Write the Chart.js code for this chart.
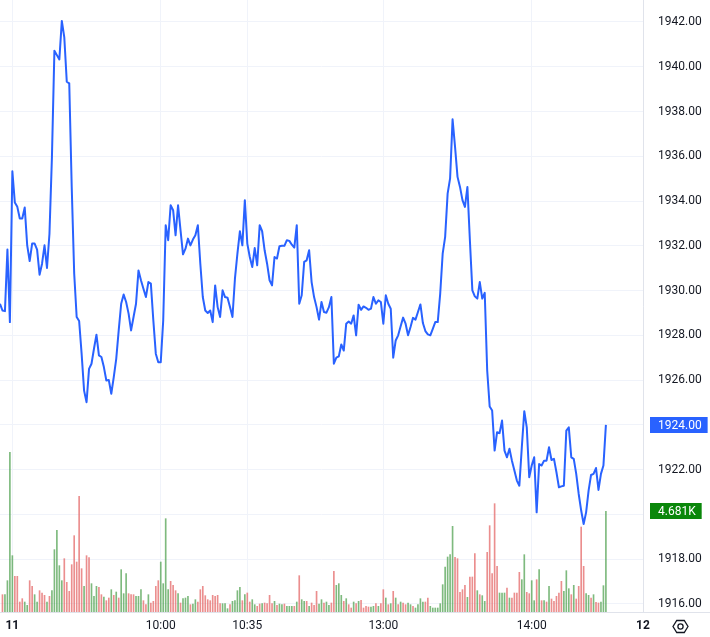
<!DOCTYPE html>
<html>
<head>
<meta charset="utf-8">
<script src="https://cdn.jsdelivr.net/npm/chart.js@4.4.1/dist/chart.umd.min.js"></script>
<style>
  html, body { margin: 0; padding: 0; background: #ffffff; }
  #wrap { width: 710px; height: 637px; position: relative; }
</style>
</head>
<body>
<div id="wrap"><canvas id="c"></canvas></div>
<script>
// ---- data (1-minute bars; index 0 = session start "11") ----
const firstIndex = -5;

const priceValues = [
  1929.41, 1929.11, 1929.08, 1931.83, 1928.59, 1935.33, 1933.93, 1933.74, 1933.22, 1933.22,
  1933.71, 1932.02, 1931.32, 1932.10, 1932.10, 1931.83, 1930.71, 1931.20, 1932.02, 1931.01,
  1932.54, 1935.97, 1940.72, 1940.52, 1940.33, 1942.05, 1941.31, 1939.33, 1939.26, 1934.63,
  1930.76, 1928.82, 1928.64, 1927.18, 1925.53, 1925.01, 1926.50, 1926.73, 1927.40, 1928.03,
  1927.10, 1927.03, 1926.58, 1925.98, 1926.00, 1925.39, 1926.13, 1926.95, 1928.22, 1929.41,
  1929.82, 1929.49, 1928.97, 1928.22, 1928.82, 1929.41, 1930.90, 1930.46, 1930.08, 1929.71,
  1930.38, 1930.31, 1928.67, 1927.18, 1926.80, 1926.80, 1928.67, 1932.92, 1932.25, 1933.81,
  1933.59, 1932.47, 1933.81, 1932.69, 1931.62, 1931.87, 1932.32, 1932.02, 1932.28, 1932.47,
  1932.92, 1931.20, 1929.71, 1929.11, 1929.00, 1929.11, 1928.59, 1930.23, 1929.26, 1928.82,
  1930.01, 1929.71, 1929.68, 1929.26, 1928.82, 1930.53, 1931.65, 1932.65, 1932.02, 1934.04,
  1932.10, 1931.50, 1931.05, 1931.90, 1931.13, 1932.92, 1932.65, 1931.80, 1931.20, 1930.46,
  1930.23, 1931.50, 1931.43, 1931.98, 1932.00, 1932.00, 1932.25, 1932.22, 1932.05, 1931.92,
  1932.92, 1929.41, 1929.79, 1931.28, 1931.35, 1931.80, 1930.38, 1929.71, 1929.26, 1928.70,
  1929.49, 1929.04, 1929.01, 1929.26, 1929.71, 1926.73, 1927.00, 1927.06, 1927.59, 1927.32,
  1928.52, 1928.62, 1928.52, 1928.89, 1928.00, 1929.37, 1929.14, 1929.29, 1929.23, 1929.14,
  1929.19, 1929.71, 1929.41, 1929.56, 1929.49, 1928.52, 1929.79, 1929.41, 1929.19, 1927.00,
  1927.77, 1928.00, 1928.41, 1928.79, 1928.52, 1928.00, 1928.37, 1928.78, 1928.70, 1929.04,
  1929.38, 1928.55, 1928.19, 1928.04, 1928.00, 1928.29, 1928.59, 1928.59, 1929.86, 1931.65,
  1932.40, 1934.33, 1935.01, 1937.65, 1936.42, 1935.08, 1934.63, 1934.04, 1933.74, 1934.63,
  1932.25, 1930.01, 1929.74, 1929.64, 1930.38, 1929.64, 1929.90, 1926.43, 1924.82, 1924.64,
  1922.85, 1923.67, 1923.63, 1924.19, 1922.85, 1922.55, 1922.93, 1922.40, 1921.96, 1921.51,
  1921.28, 1923.00, 1924.61, 1923.89, 1921.66, 1922.18, 1922.55, 1920.09, 1922.25, 1922.18,
  1922.40, 1922.40, 1923.00, 1922.43, 1922.48, 1921.88, 1921.21, 1921.25, 1921.28, 1923.74,
  1923.89, 1922.55, 1922.48, 1921.81, 1920.91, 1920.17, 1919.57, 1920.09, 1921.06, 1921.76,
  1921.81, 1922.07, 1921.09, 1921.81, 1922.18, 1924.00
];

const volumeValues = [
  null, 806, 806, 1457, 7425, 2620, 1659, 1659, 465, 620,
  465, 310, 1457, 1194, 806, 465, 992, 884, 775, 465,
  729, 992, 2899, 3798, 2155, 1457, 2480, 1380, 961, 2201,
  3550, 2325, 5379, 2015, 1194, 2620, 2527, 1318, 729, 1194,
  1147, 806, 698, 527, 651, 1039, 775, 930, 651, 1969,
  853, 1783, 853, 806, 806, 729, 729, 1039, 527, 341,
  806, 419, 496, 1194, 1457, 2325, 1318, 4340, 1039, 1426,
  1240, 992, 853, 419, 620, 651, 729, 341, 372, 574,
  465, 1039, 1194, 760, 574, 527, 775, 729, 775, 388,
  388, 388, 155, 341, 496, 527, 992, 1147, 527, 806,
  884, 465, 574, 341, 264, 372, 388, 419, 388, 775,
  388, 496, 310, 372, 341, 372, 264, 264, 264, 264,
  465, 1690, 574, 496, 496, 264, 419, 310, 961, 372,
  574, 419, 465, 310, 419, 1891, 1240, 1318, 775, 496,
  620, 341, 186, 465, 388, 496, 543, 186, 264, 233,
  233, 264, 388, 264, 388, 1039, 651, 341, 388, 961,
  651, 341, 465, 419, 341, 419, 341, 264, 186, 341,
  620, 465, 465, 651, 264, 186, 186, 186, 388, 1271,
  2093, 2558, 2666, 3984, 2542, 2480, 915, 1039, 1240, 682,
  1628, 1628, 2713, 992, 806, 760, 496, 2775, 4015, 1783,
  5038, 2124, 884, 884, 884, 1116, 651, 651, 884, 884,
  1845, 1504, 2666, 915, 853, 1457, 527, 1504, 1969, 527,
  527, 465, 1194, 605, 496, 729, 884, 1426, 961, 1922,
  1085, 806, 1240, 605, 1194, 3953, 2124, 853, 775, 651,
  806, 450, 419, 465, 1225, 4681
];

// u = up bar (green), d = down bar (red)
const volumeDirs = (
  "uduuuudddd" + "uudduudddu" + "duuuuudddd" + "ddddudduuu" + "dduddududu" +
  "uuddduuudd" + "udddduuuud" + "dduduuuduu" + "dddddddddd" + "uuuduuuudu" +
  "dduudduddd" + "duduuduuud" + "uduududddu" + "uduudduuud" + "uddududddd" +
  "uududdudud" + "ududduuduu" + "uudduuuuuu" + "uuuudddddu" + "ddduduuddd" +
  "dduuududdd" + "duudduudud" + "ududdddduu" + "ududddduud" + "udduuu"
).split("");

const timeTickPositions = [0, 60, 95, 150, 210, 255];
const timeTickLabels = ["11", "10:00", "10:35", "13:00", "14:00", "12"];
const boldTickLabels = ["11", "12"];
const priceTicks = [1916, 1918, 1920, 1922, 1924, 1926, 1928, 1930, 1932, 1934, 1936, 1938, 1940, 1942];

// ---- build datasets from the arrays ----
const linePoints = priceValues.map((v, k) => ({ x: firstIndex + k, y: v }));
const volPoints = volumeValues.map((v, k) => ({ x: firstIndex + k, y: v }));
const volColors = volumeDirs.map(d => d === "u" ? "rgba(76,160,76,0.72)" : "rgba(230,110,110,0.78)");

Chart.defaults.font.family = "Roboto, 'Noto Sans', sans-serif";
Chart.defaults.font.size = 12;
Chart.defaults.color = "#131722";

const overlay = {
  id: "overlay",
  afterDraw(chart) {
    const ctx = chart.ctx;
    const ys = chart.scales.y, vs = chart.scales.vol;
    ctx.save();
    // bottom separator line
    ctx.strokeStyle = "#e0e3eb";
    ctx.lineWidth = 1;
    ctx.beginPath();
    ctx.moveTo(0, chart.chartArea.bottom + 0.5);
    ctx.lineTo(chart.width, chart.chartArea.bottom + 0.5);
    ctx.stroke();

    ctx.font = "12px Roboto, 'Noto Sans', sans-serif";
    ctx.textBaseline = "middle";
    ctx.textAlign = "left";
    const labelX = chart.chartArea.right + 15;
    function box(yc, text, color) {
      const w = ctx.measureText(text).width;
      ctx.fillStyle = color;
      ctx.fillRect(chart.chartArea.right + 7, Math.round(yc) - 8, (labelX - chart.chartArea.right - 7) + w + 6, 16);
      ctx.fillStyle = "#ffffff";
      ctx.fillText(text, labelX, Math.round(yc) + 0.5);
    }
    const lastP = priceValues[priceValues.length - 1];
    const lastV = volumeValues[volumeValues.length - 1];
    box(vs.getPixelForValue(lastV), (lastV / 1000).toFixed(3) + "K", "#0a870a");
    box(ys.getPixelForValue(lastP), lastP.toFixed(2), "#2962ff");

    // settings (gear) icon in the corner
    const cx = 680.5, cy = 626.5, r = 7.5;
    ctx.strokeStyle = "#131722";
    ctx.lineWidth = 1.3;
    ctx.beginPath();
    for (let a = 0; a < 6; a++) {
      const ang = Math.PI / 3 * a;
      const px = cx + r * Math.cos(ang), py = cy + r * 0.92 * Math.sin(ang);
      if (a === 0) ctx.moveTo(px, py); else ctx.lineTo(px, py);
    }
    ctx.closePath();
    ctx.stroke();
    ctx.beginPath();
    ctx.arc(cx, cy, 2.6, 0, Math.PI * 2);
    ctx.stroke();
    ctx.restore();
  }
};

new Chart(document.getElementById("c"), {
  data: {
    datasets: [
      {
        type: "line",
        data: linePoints,
        xAxisID: "x",
        yAxisID: "y",
        borderColor: "#2962ff",
        borderWidth: 2,
        pointRadius: 0,
        tension: 0,
        borderJoinStyle: "round",
        order: 0
      },
      {
        type: "bar",
        data: volPoints,
        xAxisID: "x",
        yAxisID: "vol",
        backgroundColor: volColors,
        barThickness: 1,
        order: 1
      }
    ]
  },
  options: {
    responsive: true,
    maintainAspectRatio: false,
    animation: false,
    layout: { padding: 0, autoPadding: false },
    plugins: { legend: { display: false }, tooltip: { enabled: false } },
    scales: {
      x: {
        type: "linear",
        position: "bottom",
        offset: false,
        min: -5,
        max: 255,
        afterBuildTicks: s => { s.ticks = timeTickPositions.map(v => ({ value: v })); },
        afterFit: s => { s.height = 25; s.paddingLeft = 0; s.paddingRight = 0; },
        ticks: {
          autoSkip: false,
          maxRotation: 0,
          padding: 7,
          color: "#131722",
          font: c => ({ size: 12, weight: (c.tick && boldTickLabels.includes(timeTickLabels[timeTickPositions.indexOf(c.tick.value)])) ? "bold" : "normal" }),
          callback: v => { const k = timeTickPositions.indexOf(v); return k >= 0 ? timeTickLabels[k] : ""; }
        },
        grid: { color: "#f0f3fa", drawTicks: false, offset: false },
        border: { display: false }
      },
      y: {
        position: "right",
        min: 1915.637,
        max: 1942.983,
        afterBuildTicks: s => { s.ticks = priceTicks.map(v => ({ value: v })); },
        afterFit: s => { s.width = 67; s.paddingTop = 0; s.paddingBottom = 0; },
        ticks: {
          padding: 15,
          color: "#131722",
          callback: v => Number(v).toFixed(2)
        },
        grid: { color: "#f0f3fa", drawTicks: false },
        border: { display: true, color: "#e0e3eb" }
      },
      vol: {
        display: false,
        position: "left",
        min: 0,
        max: 28460
      }
    }
  },
  plugins: [overlay]
});
</script>
</body>
</html>
